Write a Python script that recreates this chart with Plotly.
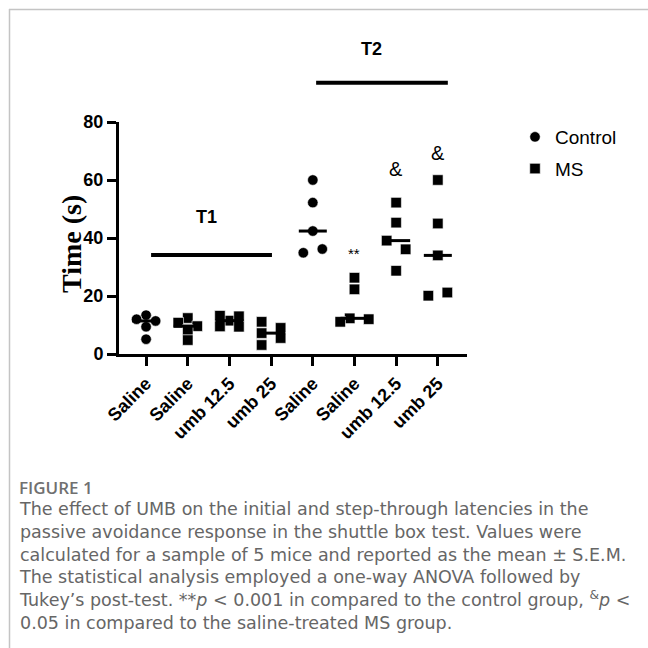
import numpy as np
import plotly.graph_objects as go

# ---------------- data ----------------
categories = ["Saline", "Saline", "umb 12.5", "umb 25", "Saline", "Saline", "umb 12.5", "umb 25"]
series_of_group = ["Control", "MS", "MS", "MS", "Control", "MS", "MS", "MS"]

t1_control_saline = [13.4, 11.4, 12.0, 9.4, 5.1]
t1_ms_saline = [12.4, 9.6, 10.8, 8.3, 4.8]
t1_ms_umb125 = [11.5, 13.0, 13.2, 9.4, 9.5]
t1_ms_umb25 = [11.1, 9.0, 7.2, 5.5, 3.1]
t2_control_saline = [60.0, 52.2, 42.4, 34.9, 36.2]
t2_ms_saline = [26.3, 22.3, 12.3, 12.0, 11.1]
t2_ms_umb125 = [52.2, 45.3, 39.1, 36.1, 28.7]
t2_ms_umb25 = [60.0, 45.0, 34.0, 20.1, 21.2]

groups = [t1_control_saline, t1_ms_saline, t1_ms_umb125, t1_ms_umb25,
          t2_control_saline, t2_ms_saline, t2_ms_umb125, t2_ms_umb25]

sig_labels = ["", "", "", "", "", "**", "&", "&"]
sig_values = [None, None, None, None, None, 34.5, 63.8, 69.3]

y_ticks = [0, 20, 40, 60, 80]

# ---------------- layout geometry ----------------
W = H = 648
ML, MR, MT, MB = 119, 181, 30, 294
PW, PH = W - ML - MR, H - MT - MB
X_RANGE = [-0.65, 7.7]
Y_MAX = 80
Y0_PX, Y80_PX = 354, 122
PX_PER_X = PW / (X_RANGE[1] - X_RANGE[0])
PX_PER_Y = (Y0_PX - Y80_PX) / Y_MAX
Y_SPLIT = (Y0_PX - Y80_PX) / PH
Y2_RANGE = [Y_MAX, Y_MAX + (Y80_PX - MT) / PX_PER_Y]

SANS = "Arial"


def px_x(px):
    return (px - ML) / PW


def px_y(py):
    return (H - MB - py) / PH


# ---------------- beeswarm offsets ----------------
STEP = 9.5   # px
DIAM = 10.0  # px


def swarm(vals):
    placed = []
    for v in vals:
        yp = v * PX_PER_Y
        for k in [0, 1, -1, 2, -2, 3, -3]:
            xp = k * STEP
            if all(np.hypot(xp - px, yp - py) >= DIAM for px, py, _ in placed):
                placed.append((xp, yp, k))
                break
    ks = [p[2] for p in placed]
    order = np.argsort(vals)
    clusters, cur = [], [order[0]]
    for a, b in zip(order[:-1], order[1:]):
        if (vals[b] - vals[a]) * PX_PER_Y < DIAM:
            cur.append(b)
        else:
            clusters.append(cur)
            cur = [b]
    clusters.append(cur)
    out = list(ks)
    for c in clusters:
        cks = {ks[i] for i in c}
        if cks == {0, 1}:
            for i in c:
                out[i] = -1 if ks[i] == 0 else 1
        else:
            shift = (min(cks) + max(cks)) / 2
            for i in c:
                out[i] = ks[i] - shift
    return [o * STEP / PX_PER_X for o in out]


fig = go.Figure()

symbols = {"Control": "circle", "MS": "square"}
for series in ["Control", "MS"]:
    xs, ys = [], []
    for gi, vals in enumerate(groups):
        if series_of_group[gi] != series:
            continue
        offs = swarm(vals)
        xs += [gi + o for o in offs]
        ys += list(vals)
    fig.add_trace(go.Scatter(
        x=xs, y=ys, mode="markers", name=series,
        marker=dict(symbol=symbols[series], size=10.5, color="black",
                    line=dict(width=0.6, color="white")),
        legendgroup=series, cliponaxis=False))

# median lines
HALF = 14 / PX_PER_X
mx, my = [], []
for gi, vals in enumerate(groups):
    m = float(np.median(vals))
    mx += [gi - HALF, gi + HALF, None]
    my += [m, m, None]
fig.add_trace(go.Scatter(x=mx, y=my, mode="lines", line=dict(color="black", width=3),
                         showlegend=False, hoverinfo="skip"))

# T1 / T2 bars
fig.add_trace(go.Scatter(x=[0.12, 3.02], y=[34.1, 34.1], mode="lines",
                         line=dict(color="black", width=4), showlegend=False))
fig.add_trace(go.Scatter(x=[4.08, 7.24], y=[93.5, 93.5], mode="lines",
                         line=dict(color="black", width=4), showlegend=False,
                         yaxis="y2"))

annotations = []
annotations.append(dict(x=1.44, y=47.2, xref="x", yref="y", text="<b>T1</b>", showarrow=False,
                        xanchor="center", yanchor="middle",
                        font=dict(family=SANS, size=18, color="black")))
annotations.append(dict(x=5.41, y=105.2, xref="x", yref="y2", text="<b>T2</b>", showarrow=False,
                        xanchor="center", yanchor="middle",
                        font=dict(family=SANS, size=18, color="black")))
for gi, (lab, v) in enumerate(zip(sig_labels, sig_values)):
    if lab:
        annotations.append(dict(x=gi, y=v, xref="x", yref="y",
                                text=lab.replace("&", "&amp;"), showarrow=False,
                                xanchor="center", yanchor="middle",
                                font=dict(family=SANS, size=15 if lab == "**" else 20,
                                          color="black")))

# y axis title
annotations.append(dict(x=px_x(71), y=px_y(244), xref="paper", yref="paper",
                        xanchor="center", yanchor="middle",
                        text="<b>Time (s)</b>", textangle=-90, showarrow=False,
                        font=dict(family="Times New Roman", size=28, color="black")))

# caption
annotations.append(dict(x=px_x(17), y=px_y(487), xref="paper", yref="paper", xanchor="left",
                        yanchor="middle", text="FIGURE 1", showarrow=False,
                        font=dict(family="Open Sans", size=17, color="#707070", weight=600)))
caption_lines = [
    "The effect of UMB on the initial and step-through latencies in the",
    "passive avoidance response in the shuttle box test. Values were",
    "calculated for a sample of 5 mice and reported as the mean ± S.E.M.",
    "The statistical analysis employed a one-way ANOVA followed by",
    "Tukey’s post-test. **<i>p</i> &lt; 0.001 in compared to the control group, <sup>&amp;</sup><i>p</i> &lt;",
    "0.05 in compared to the saline-treated MS group.",
]
annotations.append(dict(x=px_x(17), y=px_y(497), xref="paper", yref="paper",
                        xanchor="left", yanchor="top", align="left",
                        text="<br>".join(caption_lines), showarrow=False,
                        font=dict(family="DejaVu Sans", size=17.5, color="#666666")))

shapes = [
    dict(type="line", xref="paper", yref="paper", x0=px_x(9), x1=px_x(648),
         y0=px_y(9.5), y1=px_y(9.5), line=dict(color="#c4c4c4", width=1.5)),
    dict(type="line", xref="paper", yref="paper", x0=px_x(9.5), x1=px_x(9.5),
         y0=px_y(9), y1=px_y(648), line=dict(color="#c4c4c4", width=1.5)),
]

fig.update_layout(
    width=W, height=H,
    margin=dict(l=ML, r=MR, t=MT, b=MB, autoexpand=False),
    paper_bgcolor="white", plot_bgcolor="white",
    showlegend=True,
    legend=dict(x=px_x(515), y=px_y(118), xanchor="left", yanchor="top",
                font=dict(family=SANS, size=19, color="black"),
                traceorder="grouped", tracegroupgap=4, bgcolor="rgba(0,0,0,0)"),
    xaxis=dict(range=X_RANGE, tickvals=list(range(len(categories))), ticktext=categories,
               tickangle=-45, showline=True, linecolor="black", linewidth=3,
               ticks="outside", ticklen=9, tickwidth=3, tickcolor="black",
               showgrid=False, zeroline=False, anchor="y",
               tickfont=dict(family=SANS, size=18, color="black", weight="bold")),
    yaxis=dict(domain=[0, Y_SPLIT], range=[0, Y_MAX], tickvals=y_ticks,
               showline=True, linecolor="black", linewidth=3,
               ticks="outside", ticklen=9, tickwidth=3, tickcolor="black",
               showgrid=False, zeroline=False, anchor="x",
               tickfont=dict(family=SANS, size=18, color="black", weight="bold")),
    yaxis2=dict(domain=[Y_SPLIT, 1], range=Y2_RANGE, visible=False, anchor="x"),
    annotations=annotations, shapes=shapes,
)

fig.write_html("out.html")
